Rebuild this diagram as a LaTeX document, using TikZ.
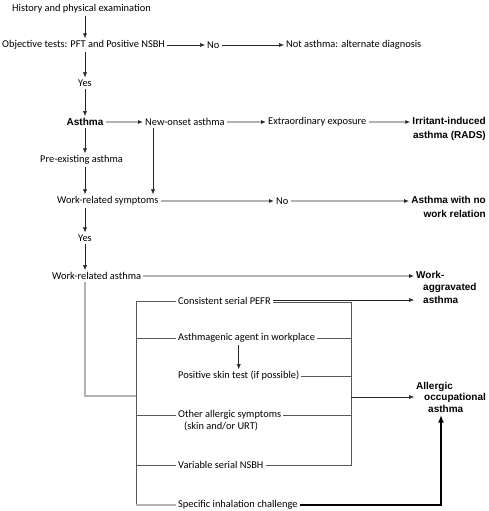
\documentclass[tikz,border=0pt]{standalone}
\usepackage{fontspec}
\setmainfont{Carlito}
\newfontfamily\outfont{Liberation Sans}
\usepackage{tikz}
\usetikzlibrary{arrows.meta, positioning}

\begin{document}
\begin{tikzpicture}[
    x=1pt, y=-1pt,
    every node/.style={inner sep=2pt, font=\fontsize{10.4}{12.4}\selectfont},
    outcome/.style={font=\outfont\bfseries\fontsize{10}{14}\selectfont},
    arrow/.style={-{Latex[length=5pt, width=4pt]}, draw=black!85, line width=0.5pt},
    greyarrow/.style={-{Latex[length=5pt, width=4pt, color=black!85]}, draw=black!30, line width=1.1pt},
    greyline/.style={draw=black!30, line width=1.1pt},
    bracket/.style={draw=black!65, line width=0.5pt},
    boldarrow/.style={-{Latex[length=8pt, width=6pt]}, draw=black, line width=1.6pt}
]
\useasboundingbox (0,0) rectangle (488,511);

% Nodes
\node[anchor=west] (hist) at (10,9) {History and physical examination};
\node[anchor=west] (obj) at (0,45) {Objective tests: PFT and Positive NSBH};
\node[anchor=west] (no1) at (205,45) {No};
\node[anchor=west] (notasth) at (284,45) {Not asthma: alternate diagnosis};
\node (yes1) at (85,83) {Yes};
\node[outcome] (asth) at (85,122) {Asthma};
\node[anchor=west] (newon) at (143,122) {New-onset asthma};
\node[anchor=west] (extra) at (266,122) {Extraordinary exposure};
\node[outcome, align=right, anchor=north east] (irrit) at (488,115) {Irritant-induced\\asthma (RADS)};
\node[anchor=west] (preex) at (38,160) {Pre-existing asthma};
\node[anchor=west] (wrs) at (55,201) {Work-related symptoms};
\node[anchor=west] (no2) at (274,201) {No};
\node[outcome, align=right, anchor=north east] (nowork) at (488,194) {Asthma with no\\work relation};
\node (yes2) at (85,238) {Yes};
\node[anchor=west] (wra) at (50,276) {Work-related asthma};
\node[outcome, font=\outfont\bfseries\fontsize{10}{12.5}\selectfont, align=left, anchor=north west] (wagg) at (414,269) {Work-\\\hspace{7pt}aggravated\\\hspace{7pt}asthma};

% Tests
\node[anchor=west] (cons) at (176,301) {Consistent serial PEFR};
\node[anchor=west] (agent) at (176,338) {Asthmagenic agent in workplace};
\node[anchor=west] (skin) at (176,376) {Positive skin test (if possible)};
\node[anchor=north west, align=left] (other) at (176,408) {Other allergic symptoms\\\hspace{6pt}(skin and/or URT)};
\node[anchor=west] (varb) at (176,465) {Variable serial NSBH};
\node[anchor=west] (spec) at (176,505) {Specific inhalation challenge};
\node[outcome, font=\outfont\bfseries\fontsize{10}{11.5}\selectfont, align=left, anchor=north west] (allerg) at (414,380) {Allergic\\\hspace{8pt}occupational\\\hspace{12pt}asthma};

\coordinate (lbar) at (136,0);
\coordinate (rbar) at (351,0);
\coordinate (join) at (136,396);
\coordinate (merge) at (351,397);
\coordinate (turn) at (441,505);
\coordinate (drop) at ([xshift=10pt]newon.south west);
\coordinate (otherline) at ([yshift=-7pt]other.north west);
\coordinate (otherend) at ([yshift=-7pt]other.north east);

% Connections
\draw[arrow] (hist.south -| asth) -- (obj.north -| asth);
\draw[arrow] (obj) -- (no1);
\draw[arrow] (no1) -- (notasth);
\draw[arrow] (obj.south -| asth) -- (yes1.north);
\draw[arrow] (yes1.south) -- (asth.north);
\draw[greyarrow] (asth) -- (newon);
\draw[greyarrow] (newon) -- (extra);
\draw[greyarrow] (extra.east) -- (extra.east -| irrit.west);
\draw[arrow] (asth.south) -- (preex.north -| asth);
\draw[arrow] (preex.south -| asth) -- (wrs.north -| asth);
\draw[arrow] (drop) -- (drop |- wrs.north);
\draw[greyarrow] (wrs) -- (no2);
\draw[greyarrow] (no2.east) -- (no2.east -| nowork.west);
\draw[arrow] (wrs.south -| asth) -- (yes2.north);
\draw[arrow] (yes2.south) -- (wra.north -| asth);
\draw[greyarrow] (wra.east) -- (wra.east -| wagg.west);
\draw[greyline] (wra.south -| asth) |- (join);

% Bracket
\draw[bracket] (cons.west) -| (spec.west -| lbar);
\draw[bracket] (agent.west) -- (agent.west -| lbar);
\draw[bracket] (otherline) -- (otherline -| lbar);
\draw[bracket] (varb.west) -- (varb.west -| lbar);
\draw[greyline] (spec.west -| lbar) -- (spec.west);
\draw[arrow] ([yshift=1pt]cons.east) -- ([yshift=1pt]cons.east -| wagg.west);
\draw[bracket] ([yshift=-1pt]cons.east) -| (varb.east -| rbar) -- (varb.east);
\draw[bracket] (agent.east) -- (agent.east -| rbar);
\draw[bracket] (skin.east) -- (skin.east -| rbar);
\draw[bracket] (otherend) -- (otherend -| rbar);
\draw[arrow] (agent.south -| skin) -- (skin.north);
\draw[arrow] (merge) -- (merge -| allerg.west);
\draw[boldarrow] (spec.east) -- (turn) -- (turn |- allerg.south);

\end{tikzpicture}
\end{document}
